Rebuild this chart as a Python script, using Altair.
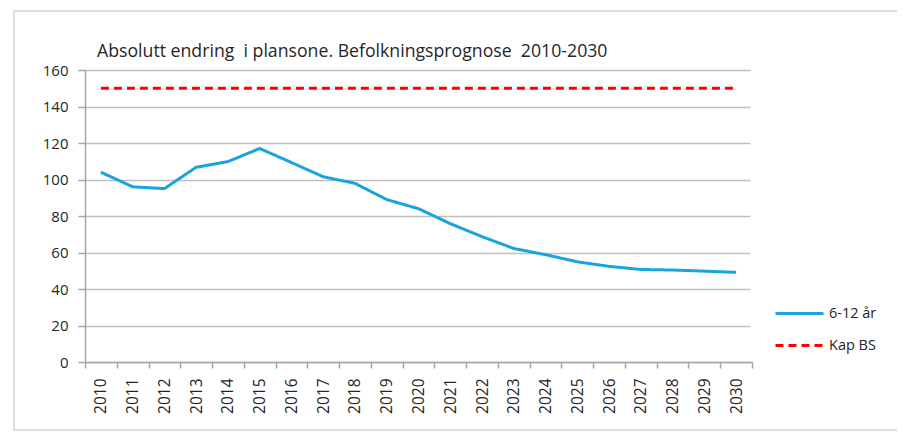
import altair as alt
import pandas as pd

years = [str(y) for y in range(2010, 2031)]
kids = [104, 96, 95, 106.7, 109.8, 117, 109.3, 101.5, 97.9, 89, 84,
        75.8, 68.7, 62.2, 58.8, 54.9, 52.4, 50.7, 50.4, 49.8, 49.1]
kap = [150] * len(years)
series_names = ["6-12 år", "Kap BS"]
title_text = "Absolutt endring\u00a0\u00a0i plansone. Befolkningsprognose\u00a0\u00a02010-2030"

rows = []
for y, k, c in zip(years, kids, kap):
    rows.append({"year": y, "value": k, "series": series_names[0]})
    rows.append({"year": y, "value": c, "series": series_names[1]})
df = pd.DataFrame(rows)

FONT = "Open Sans"
TXT = "#262626"
AXC = "#a6a6a6"

xscale = alt.Scale(type="band", paddingInner=0, paddingOuter=0)
yscale = alt.Scale(domain=[0, 160])
x_axis = alt.Axis(title=None, labelAngle=-90, tickBand="extent",
                  domainColor=AXC, domainWidth=1.5,
                  tickColor=AXC, tickSize=6, tickWidth=1.5,
                  labelFont=FONT, labelFontSize=15.5, labelColor=TXT,
                  labelPadding=10, grid=False)
y_axis = alt.Axis(title=None, values=list(range(0, 161, 20)),
                  domainColor=AXC, domainWidth=1.5,
                  tickColor=AXC, tickSize=7, tickWidth=1.5,
                  gridColor="#c0c0c0", gridWidth=1.5,
                  labelFont=FONT, labelFontSize=15, labelColor=TXT,
                  labelPadding=10)

lines = alt.Chart(df).mark_line(strokeWidth=3).encode(
    x=alt.X("year:O", bandPosition=0.5, scale=xscale, axis=x_axis),
    y=alt.Y("value:Q", scale=yscale, axis=y_axis),
    color=alt.Color("series:N",
                    scale=alt.Scale(domain=series_names, range=["#1aa3df", "#ff0000"]),
                    legend=alt.Legend(title=None, orient="none", legendX=689, legendY=218,
                                      symbolType="stroke", symbolSize=2304,
                                      symbolStrokeWidth=3, rowPadding=-15,
                                      labelOffset=4,
                                      labelFont=FONT, labelFontSize=14.5,
                                      labelColor=TXT)),
    strokeDash=alt.StrokeDash("series:N",
                              scale=alt.Scale(domain=series_names, range=[[1, 0], [8, 5]]),
                              legend=None),
)

# white mask over the stray right-edge line of the plot area (placed via the scales)
mask = alt.Chart(pd.DataFrame({"year": [years[-1]], "hi": [160], "lo": [1.2]})).mark_rule(
    color="white", strokeWidth=3
).encode(
    x=alt.X("year:O", bandPosition=1, scale=xscale, axis=x_axis),
    y=alt.Y("hi:Q", scale=yscale, axis=y_axis),
    y2="lo:Q",
)

frame = alt.Chart(pd.DataFrame({"f": [0]})).mark_rect(
    fill="transparent", stroke="#d4d4d4", strokeWidth=1.5
).encode(
    x=alt.value(-71), x2=alt.value(830), y=alt.value(-59), y2=alt.value(360)
)

title = alt.Chart(pd.DataFrame({"t": [title_text]})).mark_text(
    align="left", baseline="alphabetic", font=FONT, fontSize=17.7, color=TXT
).encode(
    x=alt.value(12), y=alt.value(-13), text="t:N"
)

chart = alt.layer(frame, mask, lines, title).properties(
    width=667, height=292,
    padding={"left": 77, "top": 62, "right": 145, "bottom": 70},
    autosize=alt.AutoSizeParams(type="none"),
).configure(background="white").configure_view(
    stroke="transparent", strokeWidth=0
)

chart.save("out.html", embed_options={"renderer": "svg", "actions": False})
